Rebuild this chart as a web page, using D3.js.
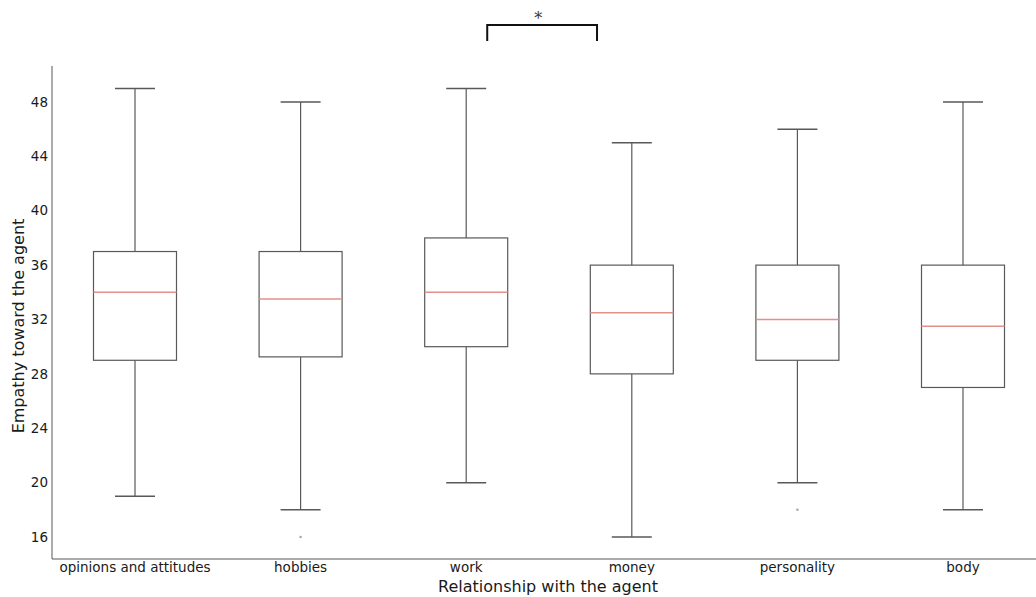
<!DOCTYPE html>
<html>
<head>
<meta charset="utf-8">
<script src="https://cdn.jsdelivr.net/npm/d3@7"></script>
<style>
  body { margin: 0; background: #fff; }
  svg { font-family: "DejaVu Sans", sans-serif; }
</style>
</head>
<body>
<svg id="chart"></svg>
<script>
// data
const categories = ["opinions and attitudes", "hobbies", "work", "money", "personality", "body"];
const whiskerLow = [19, 18, 20, 16, 20, 18];
const q1 = [29, 29.25, 30, 28, 29, 27];
const medians = [34, 33.5, 34, 32.5, 32, 31.5];
const q3 = [37, 37, 38, 36, 36, 36];
const whiskerHigh = [49, 48, 49, 45, 46, 48];
const outliers = [[], [16], [], [], [18], []];
const yTicks = [16, 20, 24, 28, 32, 36, 40, 44, 48];
// significance bracket between work and money (in category index units)
const bracket = { from: 2.127, to: 2.79, label: "*" };

const W = 1036, H = 597;
const svg = d3.select("#chart").attr("width", W).attr("height", H);

const plotLeft = 52, plotBottom = 559;

const x = d3.scaleLinear().domain([0, 1]).range([135, 300.6]);
const y = d3.scaleLinear().domain([16, 48]).range([537, 102]);

const boxHalf = 41.5, capHalf = 20;
const edge = "#595959";

// spines
svg.append("line")
  .attr("x1", plotLeft).attr("x2", plotLeft)
  .attr("y1", 66).attr("y2", plotBottom)
  .attr("stroke", edge).attr("stroke-width", 1);
svg.append("line")
  .attr("x1", plotLeft).attr("x2", W)
  .attr("y1", plotBottom).attr("y2", plotBottom)
  .attr("stroke", edge).attr("stroke-width", 1);

// y tick labels (no tick marks)
svg.append("g")
  .selectAll("text")
  .data(yTicks)
  .join("text")
  .attr("x", plotLeft - 4)
  .attr("y", d => y(d))
  .attr("dy", "0.35em")
  .attr("text-anchor", "end")
  .style("font-size", "13.5px")
  .style("fill", "#1a1a1a")
  .text(d => d);

// x tick labels
svg.append("g")
  .selectAll("text")
  .data(categories)
  .join("text")
  .attr("x", (d, i) => x(i))
  .attr("y", plotBottom + 13)
  .attr("text-anchor", "middle")
  .style("font-size", "13.5px")
  .style("fill", "#1a1a1a")
  .text(d => d);

// axis titles
svg.append("text")
  .attr("x", 548).attr("y", 592)
  .attr("text-anchor", "middle")
  .style("font-size", "16px")
  .style("fill", "#1a1a1a")
  .text("Relationship with the agent");

svg.append("text")
  .attr("transform", "translate(24, 326) rotate(-90)")
  .attr("text-anchor", "middle")
  .style("font-size", "16px")
  .style("fill", "#1a1a1a")
  .text("Empathy toward the agent");

// boxes
const boxes = svg.append("g")
  .selectAll("g")
  .data(categories.map((c, i) => i))
  .join("g")
  .attr("transform", i => `translate(${x(i)},0)`);

boxes.append("line") // upper whisker
  .attr("x1", 0).attr("x2", 0)
  .attr("y1", i => y(q3[i])).attr("y2", i => y(whiskerHigh[i]))
  .attr("stroke", edge).attr("stroke-width", 1.2);
boxes.append("line") // lower whisker
  .attr("x1", 0).attr("x2", 0)
  .attr("y1", i => y(q1[i])).attr("y2", i => y(whiskerLow[i]))
  .attr("stroke", edge).attr("stroke-width", 1.2);
boxes.append("line") // caps
  .attr("x1", -capHalf).attr("x2", capHalf)
  .attr("y1", i => y(whiskerHigh[i])).attr("y2", i => y(whiskerHigh[i]))
  .attr("stroke", edge).attr("stroke-width", 1.5);
boxes.append("line")
  .attr("x1", -capHalf).attr("x2", capHalf)
  .attr("y1", i => y(whiskerLow[i])).attr("y2", i => y(whiskerLow[i]))
  .attr("stroke", edge).attr("stroke-width", 1.5);
boxes.append("rect")
  .attr("x", -boxHalf)
  .attr("width", boxHalf * 2)
  .attr("y", i => y(q3[i]))
  .attr("height", i => y(q1[i]) - y(q3[i]))
  .attr("fill", "none")
  .attr("stroke", edge).attr("stroke-width", 1.2);
boxes.append("line") // median
  .attr("x1", -boxHalf).attr("x2", boxHalf)
  .attr("y1", i => y(medians[i])).attr("y2", i => y(medians[i]))
  .attr("stroke", "#e2908a").attr("stroke-width", 1.5);
boxes.selectAll("circle")
  .data(i => outliers[i])
  .join("circle")
  .attr("cx", 0)
  .attr("cy", d => y(d))
  .attr("r", 1.3)
  .attr("fill", "#aaa");

// significance bracket
const bx1 = x(bracket.from), bx2 = x(bracket.to);
svg.append("path")
  .attr("d", `M${bx1},41 V25 H${bx2} V41`)
  .attr("fill", "none")
  .attr("stroke", "#111")
  .attr("stroke-width", 2);
svg.append("text")
  .attr("x", (bx1 + bx2) / 2 - 4)
  .attr("y", 24)
  .attr("text-anchor", "middle")
  .style("font-family", "'DejaVu Serif', serif")
  .style("font-size", "16px")
  .style("fill", "#333")
  .text(bracket.label);
</script>
</body>
</html>
